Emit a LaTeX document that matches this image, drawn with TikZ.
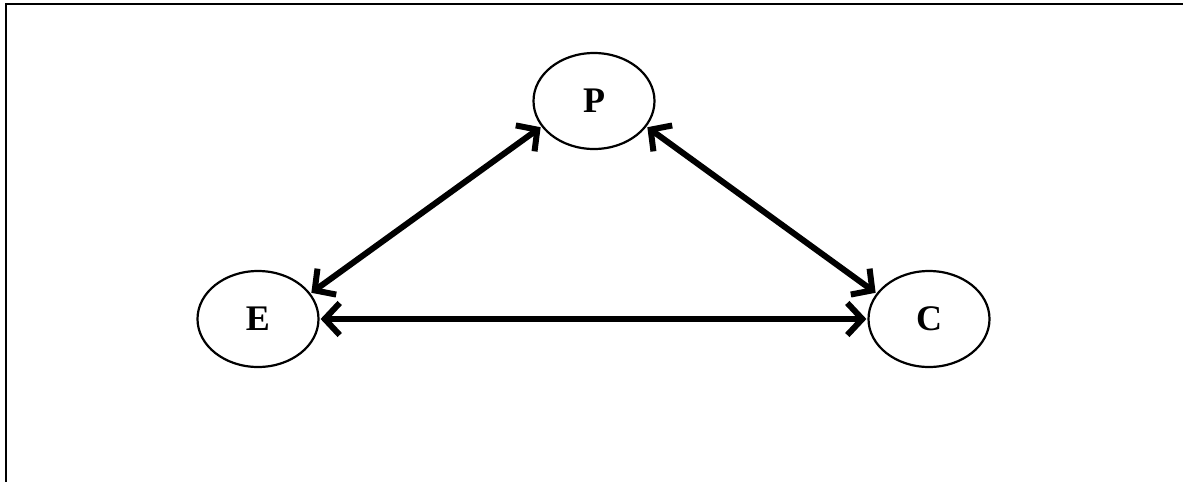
\documentclass[tikz,border=0pt]{standalone}
\usepackage{fontspec}
\setmainfont{Liberation Serif}
\usetikzlibrary{arrows.meta,shapes.geometric}
\begin{document}
\begin{tikzpicture}[x=1pt,y=-1pt,
  bubble/.style={draw=black,line width=2.2pt,ellipse,minimum width=121pt,minimum height=96pt,inner sep=0pt,font=\fontsize{36}{36}\selectfont\bfseries},
  barb/.tip={Straight Barb[length=15pt,width=32pt,line width=6pt]},
  link/.style={line width=6pt,barb-barb,shorten <=1pt,shorten >=1pt}]
\useasboundingbox (0,0) rectangle (1183,482);
\coordinate (tl) at (6,4);
\coordinate (tr) at (1183,4);
\coordinate (bl) at (6,482);
\draw[line width=2.2pt] (tr) -- (tl) -- (bl);
\node[bubble] (P) at (594,101) {P};
\node[bubble] (E) at (258,319) {E};
\node[bubble] (C) at (929,319) {C};
\draw[link] (E) -- (C);
\draw[link] (E.26) -- (P.206);
\draw[link] (P.-26) -- (C.154);
\end{tikzpicture}
\end{document}
